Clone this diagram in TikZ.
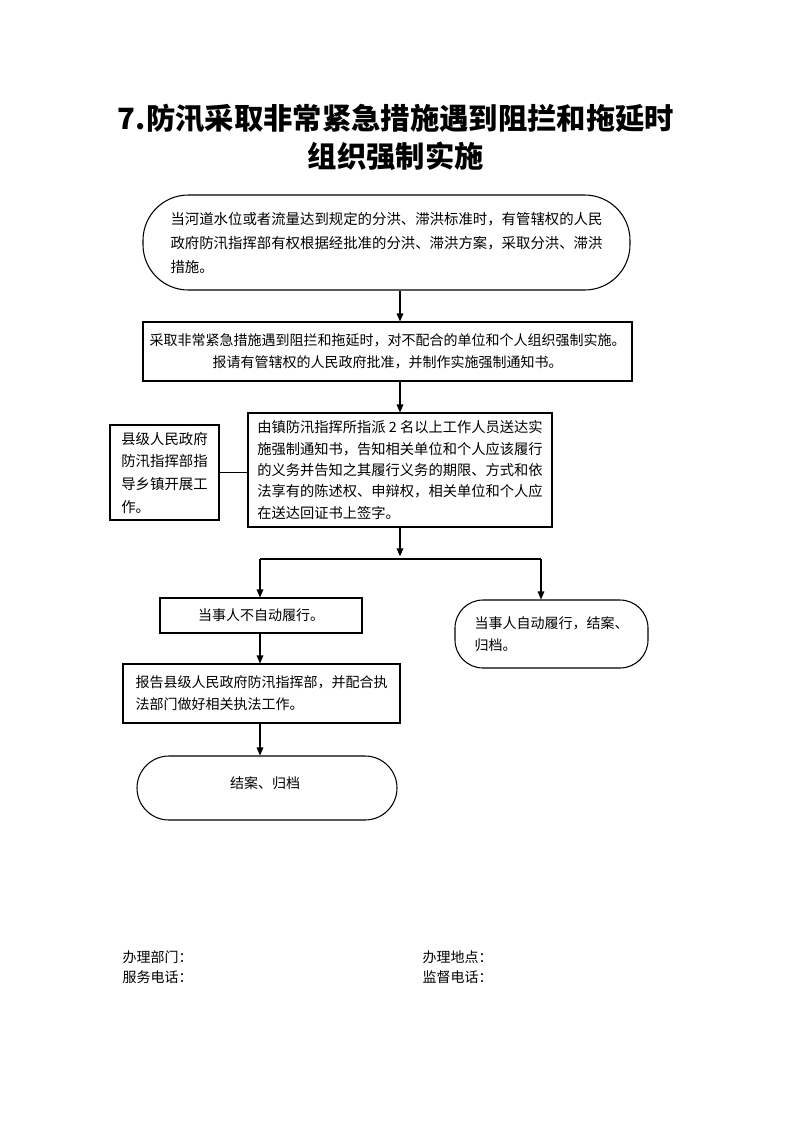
\documentclass[tikz,border=0pt]{standalone}
\usepackage{fontspec}
\setmainfont{Noto Sans CJK SC}
\usetikzlibrary{arrows.meta}

\tikzset{
  flowbox/.style={draw, line width=0.8pt, inner sep=0pt},
  flowtext/.style={font=\fontsize{10.5pt}{16.5pt}\selectfont},
  arr/.style={-{Triangle[length=6pt,width=5pt]}, line width=0.8pt},
  conn/.style={line width=0.8pt}
}

\begin{document}
\begin{tikzpicture}[x=0.75pt, y=-0.75pt]
            \useasboundingbox (0,0) rectangle (793,1122);

            % title
            \node[font=\fontsize{22pt}{29pt}\selectfont\bfseries, align=center] (title) at (396,137.5)
                {7.防汛采取非常紧急措施遇到阻拦和拖延时\\组织强制实施};

            % flow
            \node[flowbox, rounded corners=34pt, minimum width=365.25pt, minimum height=71.25pt,
                  flowtext, align=left, font=\fontsize{10.8pt}{18pt}\selectfont] (start) at (386.5,242.5)
                {当河道水位或者流量达到规定的分洪、滞洪标准时，有管辖权的人民\\
                 政府防汛指挥部有权根据经批准的分洪、滞洪方案，采取分洪、滞洪\\
                 措施。};
            \node[flowbox, minimum width=366.75pt, minimum height=44.25pt,
                  flowtext, align=center] (apply) at (387.5,351.5)
                {采取非常紧急措施遇到阻拦和拖延时，对不配合的单位和个人组织强制实施。\\
                 报请有管辖权的人民政府批准，并制作实施强制通知书。};
            \node[flowbox, minimum width=228pt, minimum height=85.5pt,
                  flowtext, align=left, font=\fontsize{10.7pt}{16pt}\selectfont] (notice) at (400,470)
                {由镇防汛指挥所指派 2 名以上工作人员送达实\\
                 施强制通知书，告知相关单位和个人应该履行\\
                 的义务并告知之其履行义务的期限、方式和依\\
                 法享有的陈述权、申辩权，相关单位和个人应\\
                 在送达回证书上签字。};
            \node[flowbox, minimum width=81.75pt, minimum height=71.25pt,
                  flowtext, align=left, font=\fontsize{10.8pt}{17pt}\selectfont] (county) at (164.5,472.5)
                {县级人民政府\\防汛指挥部指\\导乡镇开展工\\作。};
            \node[flowbox, minimum width=151.5pt, minimum height=26.25pt,
                  flowtext] (refuse) at (261,615.5) {当事人不自动履行。};
            \node[flowbox, rounded corners=21pt, minimum width=144.75pt, minimum height=51pt,
                  flowtext, align=left] (comply) at (551.5,634)
                {当事人自动履行，结案、\\归档。};
            \node[flowbox, minimum width=207.75pt, minimum height=44.25pt,
                  flowtext, align=left] (report) at (261.5,693.5)
                {报告县级人民政府防汛指挥部，并配合执\\法部门做好相关执法工作。};
            \node[flowbox, rounded corners=24pt, minimum width=195pt, minimum height=48pt] (close) at (267,788) {};
            \node[flowtext] (closetext) at (265,783) {结案、归档};

            % connectors
            \coordinate (splitL) at (260,559);
            \coordinate (splitM) at (400,559);
            \coordinate (splitR) at (541,559);
            \draw[arr] (start.south -| notice.north) -- (apply.north -| notice.north);
            \draw[arr] (apply.south -| notice.north) -- (notice.north);
            \draw[conn] (county.east) -- (county.east -| notice.west);
            \draw[arr] (notice.south) -- ([yshift=2pt]splitM);
            \draw[conn] (splitL) -- (splitR);
            \draw[arr] (splitL) -- (splitL |- refuse.north);
            \draw[arr] (splitR) -- (splitR |- comply.north);
            \draw[arr] (refuse.south -| splitL) -- (report.north -| splitL);
            \draw[arr] (report.south -| splitL) -- (close.north -| splitL);

            % footer
            \node[flowtext, anchor=west] (dept)  at (118,957) {办理部门：};
            \node[flowtext, anchor=west] (phone) at (118,977) {服务电话：};
            \node[flowtext, anchor=west] (place) at (418,957) {办理地点：};
            \node[flowtext, anchor=west] (super) at (418,977) {监督电话：};
        \end{tikzpicture}
\end{document}
